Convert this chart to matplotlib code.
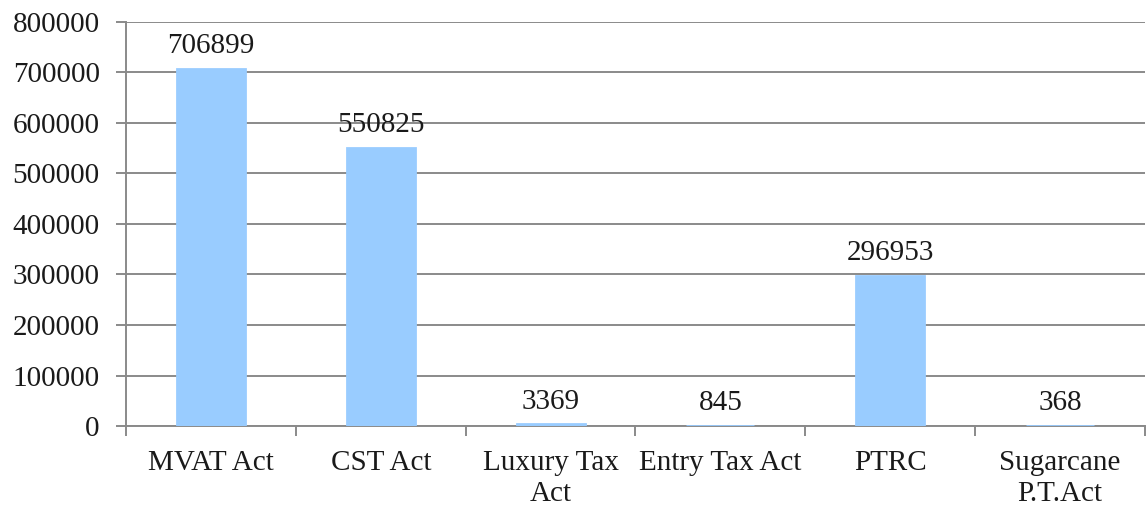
import matplotlib.pyplot as plt
import numpy as np

# Categories and values
acts = ["MVAT Act", "CST Act", "Luxury Tax\nAct", "Entry Tax Act", "PTRC", "Sugarcane\nP.T.Act"]
amounts = [706899, 550825, 3369, 845, 296953, 368]
y_ticks = [0, 100000, 200000, 300000, 400000, 500000, 600000, 700000, 800000]

plt.rcParams['font.family'] = ['Liberation Serif', 'DejaVu Serif']

fig = plt.figure(figsize=(11.46, 5.09), dpi=100)
ax = fig.add_axes([0.11, 0.163, 0.889, 0.794])

x = np.arange(len(acts))
# thin edge keeps the very small bars visible as a line
ax.bar(x, amounts, width=0.4, color='#99CCFF', edgecolor='#99CCFF',
       linewidth=2, zorder=3)

# value labels above each bar
for xi, v in zip(x, amounts):
    ax.annotate(str(v), (xi, v), xytext=(0, 7), textcoords='offset points',
                ha='center', va='bottom', fontsize=21, color='#1a1a1a')

ax.set_xlim(-0.5, len(acts) - 0.5)
ax.set_ylim(0, 800000)
ax.set_yticks(y_ticks)
ax.set_yticklabels([str(t) for t in y_ticks], fontsize=21, color='#1a1a1a')
ax.yaxis.grid(True, color='#8a8a8a', linewidth=1.4, zorder=0)

# category labels centred, tick marks on the boundaries
ax.set_xticks(x)
ax.set_xticklabels(acts, fontsize=21, color='#1a1a1a', linespacing=1.25)
ax.set_xticks(np.arange(-0.5, len(acts)), minor=True)
ax.tick_params(axis='x', which='major', length=0, pad=17)
ax.tick_params(axis='x', which='minor', length=7, width=1.4, color='#8a8a8a')
ax.tick_params(axis='y', length=7, width=1.4, color='#8a8a8a', pad=12)

for s in ['top', 'right']:
    ax.spines[s].set_visible(False)
for s in ['left', 'bottom']:
    ax.spines[s].set_color('#8a8a8a')
    ax.spines[s].set_linewidth(1.4)
    ax.spines[s].set_zorder(2)

fig.savefig('out.png', dpi=100)
